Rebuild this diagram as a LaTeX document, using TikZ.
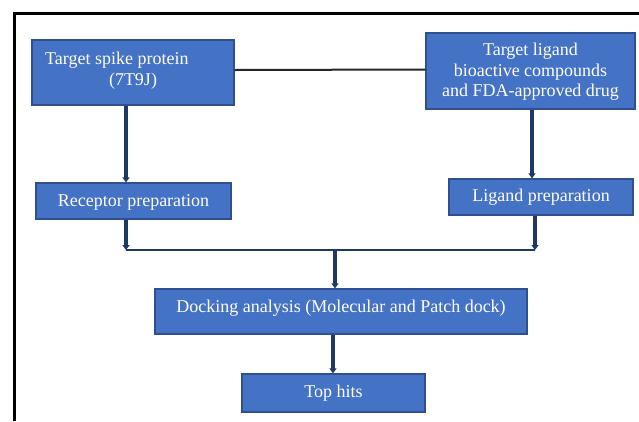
\documentclass[tikz,border=0pt]{standalone}
\usepackage{fontspec}
\setmainfont{Liberation Serif}
\usetikzlibrary{arrows.meta}
\definecolor{boxfill}{HTML}{4472C4}
\definecolor{boxline}{HTML}{2F4F8F}
\definecolor{navy}{HTML}{1F3864}
\begin{document}
\begin{tikzpicture}[x=1pt,y=-1pt,
  box/.style={draw=boxline, line width=1.3pt, fill=boxfill, inner sep=0pt},
  txt/.style={text=white, font=\fontsize{18}{20.5}\selectfont, inner sep=0pt, align=center},
  flow/.style={draw=navy, line width=3.4pt, -{Triangle[length=5pt,width=7pt]}},
  plain/.style={draw=navy, line width=2.4pt},
  frame/.style={draw=black, line width=3pt}]
\useasboundingbox (0,0) rectangle (639,421);
\fill[white] (0,0) rectangle (639,421);
% frame
\coordinate (fa) at (14,421);
\coordinate (fb) at (14,13);
\coordinate (fc) at (640,13);
\draw[frame] (fa) -- (fb) -- (fc);
% boxes
\node[box, minimum width=202pt, minimum height=65pt] (b1) at (133,72.5) {};
\node[txt, anchor=west] (t1a) at (45,60) {Target spike protein};
\node[txt] (t1b) at (133,81) {(7T9J)};
\node[box, minimum width=209pt, minimum height=76pt] (b2) at (530.5,71) {};
\node[txt] (t2) at (530.5,72) {Target ligand\\bioactive compounds\\and FDA-approved drug};
\node[box, minimum width=195pt, minimum height=36pt] (rp) at (133.5,201) {};
\node[txt] (trp) at (133.5,202) {Receptor preparation};
\node[box, minimum width=184pt, minimum height=36pt] (lp) at (541,197) {};
\node[txt] (tlp) at (541,197.5) {Ligand preparation};
\node[box, minimum width=372pt, minimum height=45pt] (dk) at (341,311.5) {};
\node[txt] (tdk) at (341,308.5) {Docking analysis (Molecular and Patch dock)};
\node[box, minimum width=183pt, minimum height=38pt] (th) at (333.5,393) {};
\node[txt] (tth) at (333.5,393) {Top hits};
% connectors
\draw[black!85, line width=2pt] (b1.east |- 0,70) -- (b2.west |- 0,69.5);
\draw[flow] (b1.south -| 126,0) -- (rp.north -| 126,0);
\draw[flow] (b2.south -| 532,0) -- (lp.north -| 532,0);
\coordinate (jl) at (126,250);
\coordinate (jr) at (535,250);
\coordinate (jm) at (335,250);
\draw[flow] (rp.south -| 126,0) -- (jl);
\draw[flow] (lp.south -| 535,0) -- (jr);
\draw[plain] (jl) -- (jr);
\draw[flow] (jm) -- (dk.north -| 335,0);
\draw[flow] (dk.south -| 333,0) -- (th.north -| 333,0);
\end{tikzpicture}
\end{document}
